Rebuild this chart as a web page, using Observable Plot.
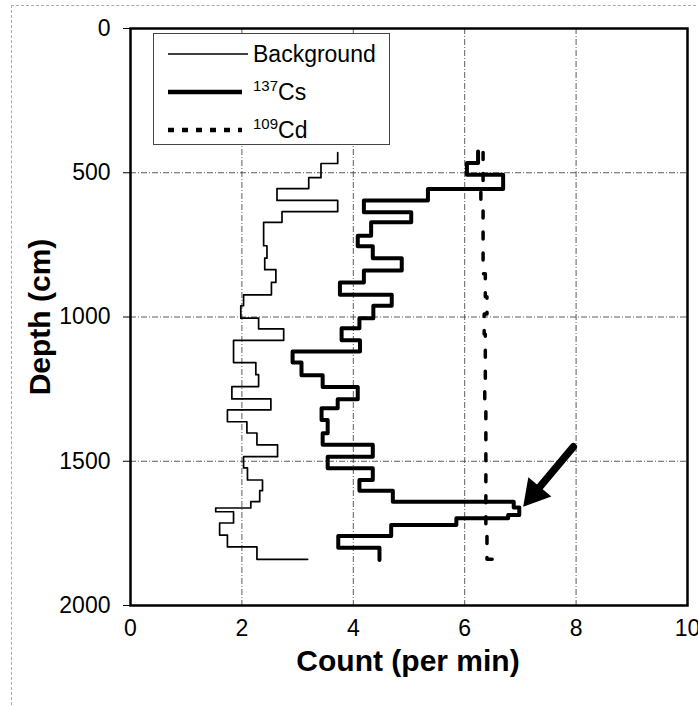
<!DOCTYPE html>
<html>
<head>
<meta charset="utf-8">
<script src="https://cdn.jsdelivr.net/npm/d3@7"></script>
<script src="https://cdn.jsdelivr.net/npm/@observablehq/plot@0.6"></script>
<style>
  html, body { margin: 0; padding: 0; background: #fff; }
  #wrap { position: relative; width: 698px; height: 707px; overflow: hidden; font-family: "Liberation Sans", Arial, sans-serif; }
  #border { position: absolute; left: 11px; top: 5px; width: 700px; height: 710px; border: 1px dashed #aaa; box-sizing: border-box; pointer-events: none; }
  .title { position: absolute; font-weight: bold; font-size: 30px; color: #000; white-space: nowrap; line-height: 30px; }
  #xtitle { left: 408px; top: 661px; transform: translate(-50%, -50%); }
  #ytitle { left: 40px; top: 317px; transform: translate(-50%, -50%) rotate(-90deg); }
  #legend { position: absolute; left: 153px; top: 33px; width: 237px; height: 112px; background: #fff; border: 1px solid #444; box-sizing: border-box; font-size: 23px; }
  .row { position: absolute; left: 0; height: 30px; width: 100%; }
  .row svg { position: absolute; left: 12px; top: 0; }
  .row span { position: absolute; left: 99px; top: 1px; line-height: 28px; }
  sup { font-size: 15px; vertical-align: 9px; line-height: 0; }
</style>
</head>
<body>
<div id="wrap">
  <div id="chart"></div>
  <div id="border"></div>
  <div id="legend"></div>
  <div class="title" id="xtitle">Count (per min)</div>
  <div class="title" id="ytitle">Depth (cm)</div>
</div>
<script>
// ---- data ----
const xTicks = [0, 2, 4, 6, 8, 10];
const yTicks = [0, 500, 1000, 1500, 2000];

// Background (thin step line): depth at top of each interval, count value
const bgDepth = [430,468,517,555,596,635,672,753,796,836,880,923,961,1004,1041,1081,1158,1200,1241,1284,1322,1363,1402,1443,1484,1523,1565,1602,1640,1662,1675,1714,1756,1797,1840];
const bgValue = [3.72,3.42,3.20,2.63,3.72,2.72,2.39,2.45,2.41,2.61,2.53,2.03,1.98,2.30,2.75,1.85,2.25,2.30,1.82,2.52,1.74,2.09,2.27,2.64,2.03,2.10,2.37,2.32,2.16,1.53,1.85,1.60,1.74,2.27,3.18];

// 137Cs (thick step line)
const csDepth = [426,466,507,556,596,637,672,718,755,796,839,880,923,961,1004,1039,1081,1120,1158,1202,1243,1285,1316,1357,1403,1443,1484,1524,1565,1602,1640,1660,1686,1698,1721,1759,1800,1842];
const csValue = [6.24,6.04,6.69,5.34,4.19,5.04,4.32,4.08,4.35,4.87,4.19,3.76,4.69,4.36,4.11,3.79,4.12,2.91,3.07,3.45,4.08,3.72,3.43,3.54,3.45,4.35,3.54,4.35,4.11,4.71,6.88,6.98,6.78,5.85,4.68,3.73,4.47,4.47];

// 109Cd (dashed)
const cdDepth = [430,545,600,760,850,930,990,1060,1220,1300,1600,1760,1840];
const cdValue = [6.33,6.29,6.33,6.33,6.37,6.40,6.35,6.37,6.36,6.38,6.38,6.40,6.60];

// annotation arrow (tail -> head) in data units
const arrowTail = [7.95, 1450];
const arrowHead = [7.05, 1658];

const seriesNames = ["Background", "137Cs", "109Cd"];

// ---- build ----
const toRows = (d, v) => d.map((depth, i) => ({depth, value: v[i]}));
const bg = toRows(bgDepth, bgValue);
const cs = toRows(csDepth, csValue);
const cd = toRows(cdDepth, cdValue);

// arrow-head triangle placement (screen-space offset along the shaft direction)
const W = 698, H = 707, mL = 130, mR = 11, mT = 28, mB = 102;
const kx = (W - mL - mR) / 10, ky = (H - mT - mB) / 2000;
const vx = (arrowTail[0] - arrowHead[0]) * kx, vy = (arrowTail[1] - arrowHead[1]) * ky;
const vlen = Math.hypot(vx, vy);
const ux = vx / vlen, uy = vy / vlen;
const headH = 26;
const rotDeg = Math.atan2(-ux, uy) * 180 / Math.PI; // rotate so apex points toward the head
const triR = Math.sqrt((Math.sqrt(3) / 3 * headH * headH) / Math.PI);

const chart = Plot.plot({
  width: W,
  height: H,
  marginLeft: mL,
  marginRight: mR,
  marginTop: mT,
  marginBottom: mB,
  style: {fontSize: "23px", fontFamily: "'Liberation Sans', Arial, sans-serif", color: "#000", background: "transparent"},
  x: {domain: [0, 10], ticks: xTicks, tickSize: 0, tickPadding: 14, label: null, tickFormat: d => String(d)},
  y: {domain: [0, 2000], reverse: true, ticks: yTicks, tickSize: 7, tickPadding: 13, label: null, tickFormat: d => String(d)},
  marks: [
    Plot.ruleX(xTicks.slice(1, -1), {stroke: "#333", strokeWidth: 0.8, strokeDasharray: "6,2,1,2"}),
    Plot.ruleY(yTicks.slice(1, -1), {stroke: "#333", strokeWidth: 0.8, strokeDasharray: "6,2,1,2"}),
    Plot.line(bg, {x: "value", y: "depth", curve: "step-before", stroke: "black", strokeWidth: 1.7}),
    Plot.line(cs, {x: "value", y: "depth", curve: "step-before", stroke: "black", strokeWidth: 4}),
    Plot.line(cd, {x: "value", y: "depth", curve: "step-before", stroke: "black", strokeWidth: 3.5, strokeDasharray: "7,14"}),
    Plot.arrow([{}], {x1: () => arrowTail[0], y1: () => arrowTail[1], x2: () => arrowHead[0], y2: () => arrowHead[1], stroke: "black", strokeWidth: 7.5, headLength: 0, insetEnd: headH - 4}),
    Plot.dot([{}], {x: () => arrowHead[0], y: () => arrowHead[1], symbol: "triangle", r: triR, fill: "black", stroke: "none", rotate: rotDeg, dx: ux * headH * 2 / 3, dy: uy * headH * 2 / 3}),
    Plot.frame({stroke: "black", strokeWidth: 2.5})
  ]
});
document.getElementById("chart").appendChild(chart);

// ---- legend ----
const legend = document.getElementById("legend");
const styles = [
  {w: 1.6, dash: null},
  {w: 4.5, dash: null},
  {w: 4.5, dash: "6,8"}
];
const labelsHtml = [seriesNames[0], "<sup>137</sup>Cs", "<sup>109</sup>Cd"];
seriesNames.forEach((name, i) => {
  const row = document.createElement("div");
  row.className = "row";
  row.style.top = (5 + i * 38) + "px";
  const len = i === 0 ? 80 : 74;
  row.innerHTML = `<svg width="90" height="30"><line x1="2" x2="${2 + len}" y1="15" y2="15" stroke="black" stroke-width="${styles[i].w}" ${styles[i].dash ? `stroke-dasharray="${styles[i].dash}"` : ""}/></svg><span>${labelsHtml[i]}</span>`;
  legend.appendChild(row);
});
</script>
</body>
</html>
